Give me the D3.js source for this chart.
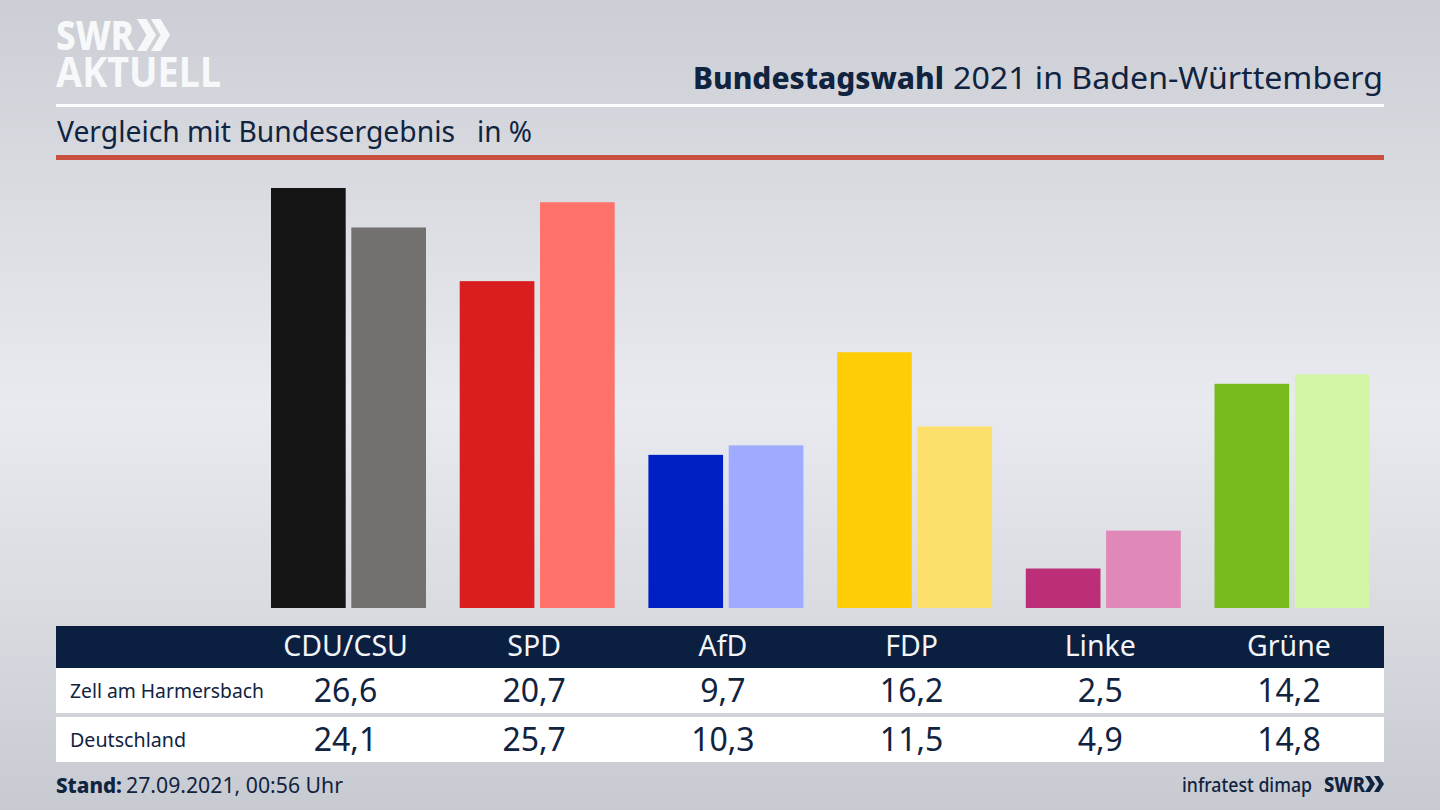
<!DOCTYPE html>
<html><head><meta charset="utf-8">
<script src="https://cdn.jsdelivr.net/npm/d3@7/dist/d3.min.js"></script>
<style>html,body{margin:0;padding:0;background:#d5d7dd;overflow:hidden}svg{display:block}text{font-family:"Noto Sans",sans-serif}</style>
</head><body><svg id="c" width="1440" height="810"></svg>
<script>
const parties=["CDU/CSU","SPD","AfD","FDP","Linke","Grüne"];
const seriesNames=["Zell am Harmersbach","Deutschland"];
const zell=[26.6,20.7,9.7,16.2,2.5,14.2];
const deutschland=[24.1,25.7,10.3,11.5,4.9,14.8];
const colorsZell=["#141414","#d81e1e","#0020c4","#ffcc08","#bc2e78","#77bc1c"];
const colorsDe=["#72716f","#ff726c","#9eabff","#fde06c","#e088b8","#d2f5a6"];
const navy="#0b2040", ink="#10233f";
const fmt=v=>String(v.toFixed(1)).replace(".",",");

const svg=d3.select("#c");
const defs=svg.append("defs");
const g=defs.append("linearGradient").attr("id","bg").attr("x1",0).attr("x2",0).attr("y1",0).attr("y2",1);
[[0,"#ccced5"],[0.25,"#dadce2"],[0.5,"#e9eaef"],[0.75,"#d9dbe1"],[1,"#c7cad1"]].forEach(s=>g.append("stop").attr("offset",s[0]).attr("stop-color",s[1]));
svg.append("rect").attr("width",1440).attr("height",810).attr("fill","url(#bg)");

// logo
function label(x,y,size,weight,fill,len,txt,fam){
  const t=svg.append("text").attr("x",x).attr("y",y).attr("font-size",size).attr("font-weight",weight).attr("fill",fill).text(txt);
  if(len) t.attr("textLength",len).attr("lengthAdjust","spacingAndGlyphs");
  if(fam) t.attr("font-family",fam);
  return t;
}
label(56,50,41,800,"#f7f8f9",78,"SWR","Open Sans");
function chev(x,y,w,h,fill){
  svg.append("path").attr("fill",fill).attr("d",d3.line()([[x,y],[x+w*0.5,y],[x+w,y+h/2],[x+w*0.5,y+h],[x,y+h],[x+w*0.5,y+h/2]])+"Z");
}
chev(137,19,19,32,"#f7f8f9"); chev(151,19,19,32,"#f7f8f9");
label(56,87,41,700,"#f7f8f9",165,"AKTUELL","Open Sans");

// heading
label(693,89,31,800,ink,251,"Bundestagswahl");
label(953,89,31,400,ink,430,"2021 in Baden-Württemberg");
svg.append("rect").attr("x",56).attr("y",104).attr("width",1328).attr("height",3).attr("fill","#fafbfc");
label(57,142,28.5,400,ink,398,"Vergleich mit Bundesergebnis");
label(477,142,28.5,400,ink,55,"in %");
svg.append("rect").attr("x",56).attr("y",155).attr("width",1328).attr("height",5).attr("fill","#c9503e");

// scales
const xC=d3.scalePoint().domain(parties).range([345.5,1289]);
const xS=d3.scaleBand().domain(seriesNames).range([-74.5,80.5]).paddingInner(0.07);
const y=d3.scaleLinear().domain([0,26.6]).range([608,188]);

// bars
[[seriesNames[0],zell,colorsZell],[seriesNames[1],deutschland,colorsDe]].forEach(([n,vals,cols])=>{
  svg.append("g").selectAll("rect").data(vals).join("rect")
    .attr("x",(d,i)=>xC(parties[i])+xS(n)).attr("width",xS.bandwidth())
    .attr("y",d=>y(d)).attr("height",d=>y(0)-y(d)).attr("fill",(d,i)=>cols[i]);
});

// table
svg.append("rect").attr("x",56).attr("y",626).attr("width",1328).attr("height",42).attr("fill",navy);
svg.append("rect").attr("x",56).attr("y",668).attr("width",1328).attr("height",45).attr("fill","#fff");
svg.append("rect").attr("x",56).attr("y",717).attr("width",1328).attr("height",45).attr("fill","#fff");
svg.append("g").selectAll("text").data(parties).join("text")
  .attr("x",d=>xC(d)).attr("y",656).attr("text-anchor","middle").attr("font-size",28.5).attr("fill","#f2f4f7").text(d=>d);
[[seriesNames[0],zell,702,194],[seriesNames[1],deutschland,751,116]].forEach(([n,vals,by,len])=>{
  label(70,by-4,20,400,ink,len,n);
  svg.append("g").selectAll("text").data(vals).join("text")
    .attr("x",(d,i)=>xC(parties[i])).attr("y",by).attr("text-anchor","middle").attr("font-size",32).attr("fill",ink).text(fmt);
});

// footer
label(56,793,22,800,ink,66,"Stand:");
label(126,793,22,400,ink,217,"27.09.2021, 00:56 Uhr");
label(1182,792,20,500,ink,130,"infratest dimap");
label(1324,792,22,800,ink,41,"SWR","Open Sans");
chev(1365,776,10,16,ink); chev(1374,776,10,16,ink);
</script></body></html>
